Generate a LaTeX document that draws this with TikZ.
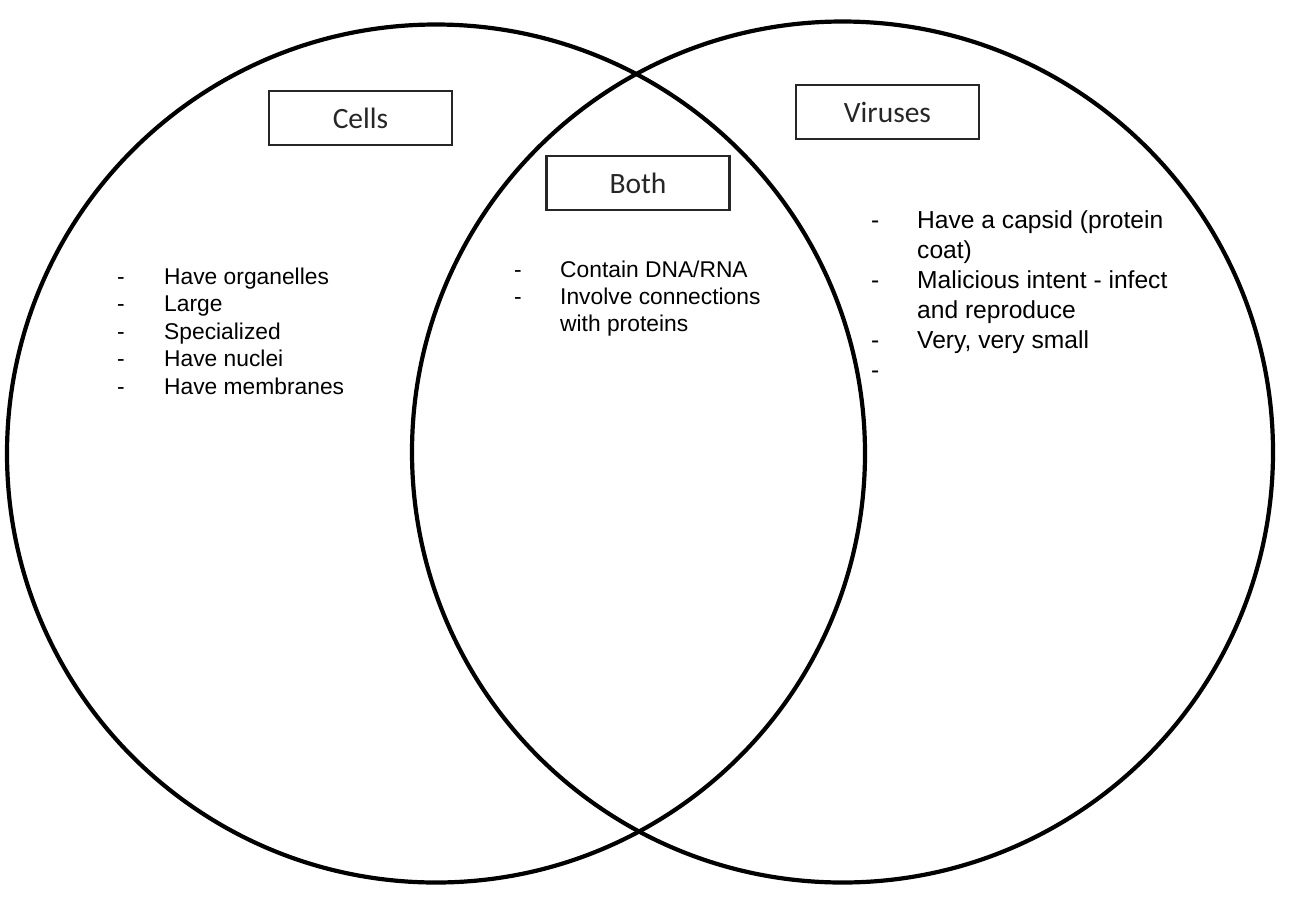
\documentclass[tikz,border=0pt]{standalone}
\usepackage{fontspec}
\setmainfont{Liberation Sans}
\newfontfamily\boxfont{Carlito}
\begin{document}
\begin{tikzpicture}[x=1pt,y=-1pt,
  ring/.style={circle,draw=black,line width=4.2pt,inner sep=0pt},
  labelbox/.style={draw=black!85,line width=2.2pt,minimum width=183pt,minimum height=54pt,
    inner sep=0pt,font=\boxfont\fontsize{29.5}{34}\selectfont,text=black!85},
  smallitem/.style={anchor=base west,inner sep=0pt,font=\fontsize{22.8}{27}\selectfont},
  bigitem/.style={anchor=base west,inner sep=0pt,font=\fontsize{24.6}{30}\selectfont}]
  \useasboundingbox (0,0) rectangle (1296,898);

  % the two overlapping sets
  \node[ring,minimum size=858pt] (cells) at (436,453.5) {};
  \node[ring,minimum size=861pt] (viruses) at (842.5,452) {};

  % set titles
  \node[labelbox] (tcells) at (360.5,118) {Cells};
  \node[labelbox] (tboth) at (638,183) {Both};
  \node[labelbox] (tvir) at (887.5,112) {Viruses};

  % cells only
  \foreach \y/\t [count=\i] in {284/Have organelles,311.5/Large,339/Specialized,366.5/Have nuclei,394/Have membranes}{
    \node[smallitem] (cd\i) at (117,\y) {-};
    \node[smallitem] (ct\i) at (164,\y) {\t};
  }

  % shared
  \node[smallitem] (bd1) at (514,277) {-};
  \node[smallitem] (bt1) at (560,277) {Contain DNA/RNA};
  \node[smallitem] (bd2) at (514,304) {-};
  \node[smallitem] (bt2) at (560,304) {Involve connections};
  \node[smallitem] (bt3) at (560,331) {with proteins};

  % viruses only
  \node[bigitem] (vd1) at (871,228) {-};
  \node[bigitem] (vt1) at (917,228) {Have a capsid (protein};
  \node[bigitem] (vt2) at (917,258) {coat)};
  \node[bigitem] (vd2) at (871,288) {-};
  \node[bigitem] (vt3) at (917,288) {Malicious intent - infect};
  \node[bigitem] (vt4) at (917,318) {and reproduce};
  \node[bigitem] (vd3) at (871,348) {-};
  \node[bigitem] (vt5) at (917,348) {Very, very small};
  \node[bigitem] (vd4) at (871,378) {-};
\end{tikzpicture}
\end{document}
